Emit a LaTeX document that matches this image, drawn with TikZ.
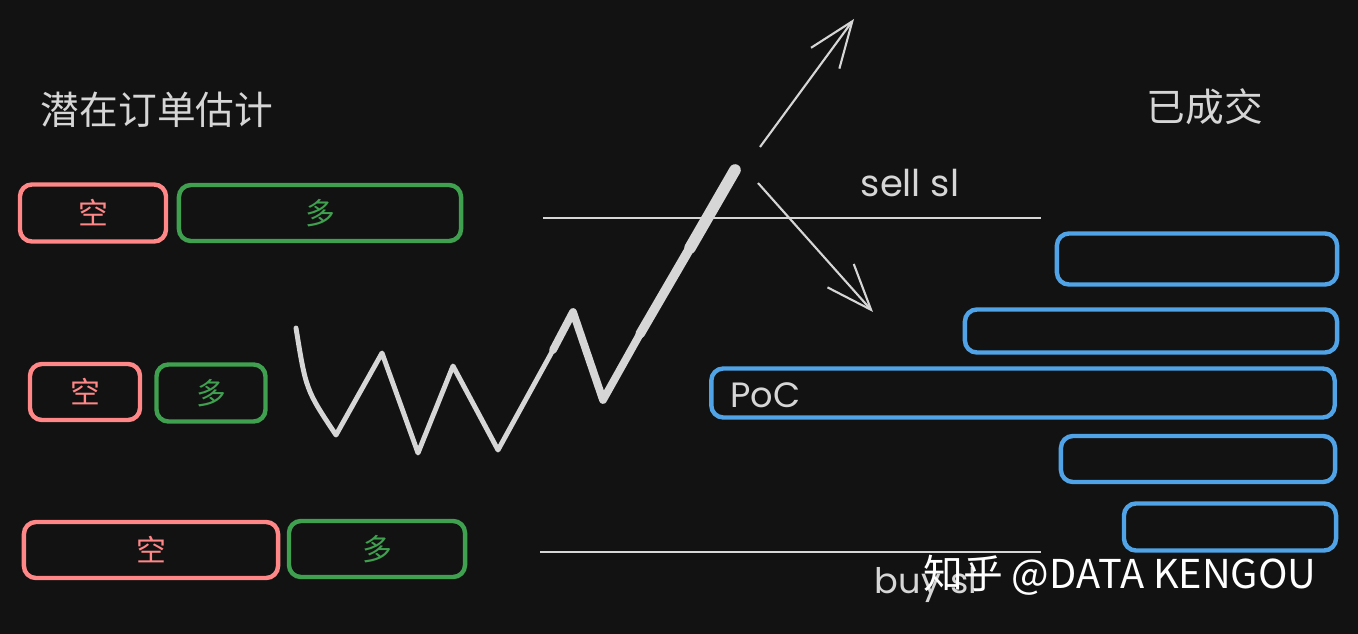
\documentclass[tikz,border=0pt]{standalone}
\usepackage{fontspec}
\setmainfont{Poppins}
\newfontfamily\cjkfont{Noto Sans CJK SC}
\usetikzlibrary{positioning}
\usetikzlibrary{arrows.meta}
\definecolor{boardbg}{HTML}{121212}
\definecolor{chalk}{HTML}{D6D6D6}
\definecolor{shortred}{HTML}{FF8787}
\definecolor{longgreen}{HTML}{3FA04F}
\definecolor{filledblue}{HTML}{4FA3E6}

\begin{document}
\begin{tikzpicture}[x=0.01cm,y=-0.01cm]
	\tikzset{
		order box/.style= {draw, rounded corners=1.2mm, line width=1.25pt, inner sep=0pt, font=\cjkfont\fontsize{8.5}{10}\selectfont},
		short box/.style= {order box, draw=shortred, text=shortred},
		long box/.style= {order box, draw=longgreen, text=longgreen},
		filled box/.style= {order box, draw=filledblue, text=chalk, minimum height=0.47cm},
		level line/.style= {draw=chalk, line width=0.45pt},
		move arrow/.style= {draw=chalk, line width=0.6pt, -{Straight Barb[length=13pt,width=10pt]}},
		title text/.style= {text=chalk, font=\cjkfont\fontsize{11}{13}\selectfont}
		}
		\fill[boardbg] (0,0) rectangle (1358,634);

		\path 	(157,110) node [name=estimate, title text] {潜在订单估计}
				(1205,107) node [name=filled, title text] {已成交};

		\path 	(93,213) node [name=short1, short box, minimum width=1.46cm, minimum height=0.57cm] {空}
				(320,213) node [name=long1, long box, minimum width=2.82cm, minimum height=0.56cm] {多}
				(85,392) node [name=short2, short box, minimum width=1.10cm, minimum height=0.56cm] {空}
				(211,393) node [name=long2, long box, minimum width=1.09cm, minimum height=0.57cm] {多}
				(151,550) node [name=short3, short box, minimum width=2.54cm, minimum height=0.56cm] {空}
				(377,549) node [name=long3, long box, minimum width=1.76cm, minimum height=0.56cm] {多};

		\path 	(1197,259) node [name=vol1, filled box, minimum width=2.80cm, minimum height=0.51cm] {}
				(1151,331) node [name=vol2, filled box, minimum width=3.72cm, minimum height=0.43cm] {}
				(1023,393) node [name=poc, filled box, minimum width=6.23cm, minimum height=0.49cm] {}
				(1198,459) node [name=vol4, filled box, minimum width=2.74cm, minimum height=0.46cm] {}
				(1230,527) node [name=vol5, filled box, minimum width=2.12cm, minimum height=0.47cm] {};
		\node [anchor=west, text=chalk, font=\fontsize{10}{12}\selectfont] (poclabel) at (718,395) {PoC};

		\coordinate (sell left) at (543,218);
		\coordinate (sell right) at (1041,218);
		\coordinate (buy left) at (540,552);
		\coordinate (buy right) at (1041,552);
		\draw [level line] (sell left) -- (sell right);
		\draw [level line] (buy left) -- (buy right);
		\node [text=chalk, font=\fontsize{10.5}{12}\selectfont] (selltext) at (910,183) {sell sl};
		\node [text=chalk, font=\fontsize{10}{12}\selectfont] (buytext) at (926,585) {buy sl};

		\draw [chalk, line width=1.4pt, line cap=round, line join=round]
			(296,328) .. controls (306,390) .. (336,435) -- (382,353) -- (418,453) -- (453,366) -- (498,450) -- (553,350);
		\draw [chalk, line width=2.2pt, line cap=round, line join=round]
			(553,350) -- (573,312) -- (603,400) -- (640,334);
		\draw [chalk, line width=2.7pt, line cap=round] (640,334) -- (690,248);
		\draw [chalk, line width=3.3pt, line cap=round] (690,248) -- (735,170);

		\coordinate (up start) at (760,147);
		\coordinate (up end) at (854,19);
		\coordinate (down start) at (758,183);
		\coordinate (down end) at (873,312);
		\draw [move arrow] (up start) -- (up end);
		\draw [move arrow] (down start) -- (down end);

		\node [anchor=west, text=white, font=\cjkfont\fontsize{11.3}{13}\selectfont] (mark) at (911,575) {知乎 @DATA KENGOU};
\end{tikzpicture}
\end{document}
